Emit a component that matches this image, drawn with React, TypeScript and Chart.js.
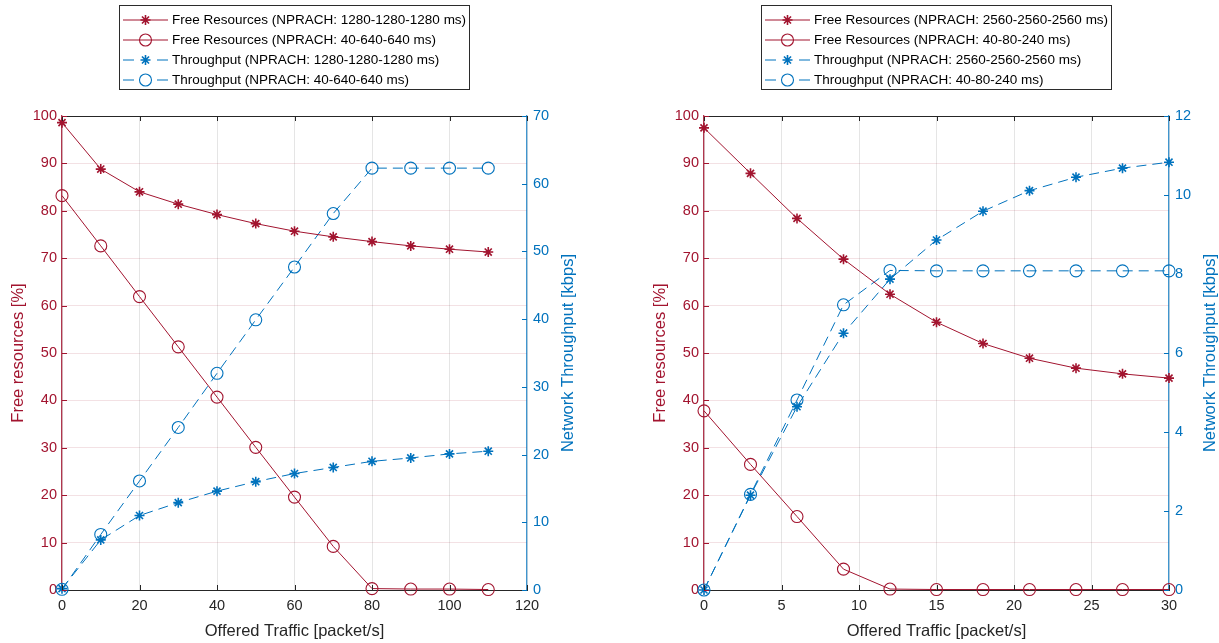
import React, { useEffect, useRef } from 'react';
import { Chart, registerables } from 'chart.js';

Chart.register(...registerables);

const RED = '#A2142F';
const BLUE = '#0072BD';
const DARK = '#262626';
const FONT = "'Liberation Sans', Arial, Helvetica, sans-serif";

// ---- Left panel data ----
const trafficLeft = [0, 10, 20, 30, 40, 50, 60, 70, 80, 90, 100, 110];
const freeRes1280 = [98.6, 88.8, 84.0, 81.4, 79.2, 77.3, 75.7, 74.5, 73.5, 72.6, 71.9, 71.3];
const freeRes40_640 = [83.2, 72.6, 61.9, 51.3, 40.7, 30.1, 19.6, 9.2, 0.3, 0.2, 0.2, 0.1];
const thr1280 = [0.2, 7.4, 11.0, 12.9, 14.6, 16.0, 17.2, 18.1, 19.0, 19.5, 20.1, 20.5];
const thr40_640 = [0.1, 8.2, 16.1, 24.0, 32.0, 39.9, 47.7, 55.6, 62.3, 62.3, 62.3, 62.3];
const labelsLeft = [
  'Free Resources (NPRACH: 1280-1280-1280 ms)',
  'Free Resources (NPRACH: 40-640-640 ms)',
  'Throughput (NPRACH: 1280-1280-1280 ms)',
  'Throughput (NPRACH: 40-640-640 ms)',
];

// ---- Right panel data ----
const trafficRight = [0, 3, 6, 9, 12, 15, 18, 21, 24, 27, 30];
const freeRes2560 = [97.5, 87.9, 78.4, 69.8, 62.4, 56.5, 52.0, 48.9, 46.8, 45.6, 44.7];
const freeRes40_80 = [37.8, 26.5, 15.5, 4.4, 0.2, 0.1, 0.1, 0.1, 0.1, 0.1, 0.1];
const thr2560 = [0.0, 2.4, 4.64, 6.5, 7.87, 8.86, 9.59, 10.11, 10.45, 10.68, 10.83];
const thr40_80 = [0.0, 2.42, 4.81, 7.22, 8.09, 8.08, 8.08, 8.08, 8.08, 8.08, 8.08];
const labelsRight = [
  'Free Resources (NPRACH: 2560-2560-2560 ms)',
  'Free Resources (NPRACH: 40-80-240 ms)',
  'Throughput (NPRACH: 2560-2560-2560 ms)',
  'Throughput (NPRACH: 40-80-240 ms)',
];

const xTitle = 'Offered Traffic [packet/s]';
const yLeftTitle = 'Free resources [%]';
const yRightTitle = 'Network Throughput [kbps]';

function mk(label: string, xs: number[], ys: number[], axis: string, color: string, style: string, dashed: boolean) {
  const star = style === 'star';
  return {
    label,
    data: xs.map((x, i) => ({ x, y: ys[i] })),
    yAxisID: axis,
    borderColor: color,
    backgroundColor: color,
    borderWidth: 1,
    borderDash: dashed ? [10, 6] : [],
    pointStyle: style,
    pointRadius: star ? 5 : 6,
    pointBorderWidth: star ? 1.6 : 1.1,
    pointBackgroundColor: star ? color : 'rgba(0,0,0,0)',
    pointBorderColor: color,
    pointHoverRadius: star ? 5 : 6,
    tension: 0,
    clip: false as any,
    fill: false,
  };
}

function drawMarker(ctx: CanvasRenderingContext2D, style: string, x: number, y: number, color: string) {
  ctx.save();
  ctx.strokeStyle = color;
  ctx.setLineDash([]);
  if (style === 'star') {
    const r = 5;
    const d = r * Math.SQRT1_2;
    ctx.lineWidth = 1.6;
    ctx.beginPath();
    ctx.moveTo(x - r, y); ctx.lineTo(x + r, y);
    ctx.moveTo(x, y - r); ctx.lineTo(x, y + r);
    ctx.moveTo(x - d, y - d); ctx.lineTo(x + d, y + d);
    ctx.moveTo(x - d, y + d); ctx.lineTo(x + d, y - d);
    ctx.stroke();
  } else {
    ctx.lineWidth = 1.1;
    ctx.beginPath();
    ctx.arc(x, y, 6, 0, Math.PI * 2);
    ctx.stroke();
  }
  ctx.restore();
}

const decorPlugin = {
  id: 'decor',
  afterDraw(chart: any, _args: any, opts: any) {
    const ctx: CanvasRenderingContext2D = chart.ctx;
    const { left, right, top, bottom } = chart.chartArea;
    const sx = chart.scales.x, sy = chart.scales.y, sy1 = chart.scales.y1;
    ctx.save();
    // top border
    ctx.strokeStyle = DARK;
    ctx.lineWidth = 1;
    ctx.beginPath();
    ctx.moveTo(left, top + 0.5);
    ctx.lineTo(right, top + 0.5);
    ctx.stroke();
    // inward ticks
    const TL = 5;
    ctx.strokeStyle = DARK;
    ctx.beginPath();
    sx.ticks.forEach((t: any) => {
      const px = Math.round(sx.getPixelForValue(t.value)) + 0.5;
      ctx.moveTo(px, bottom); ctx.lineTo(px, bottom - TL);
      ctx.moveTo(px, top); ctx.lineTo(px, top + TL);
    });
    ctx.stroke();
    ctx.strokeStyle = RED;
    ctx.beginPath();
    sy.ticks.forEach((t: any) => {
      const py = Math.round(sy.getPixelForValue(t.value)) + 0.5;
      ctx.moveTo(left, py); ctx.lineTo(left + TL, py);
    });
    ctx.stroke();
    ctx.strokeStyle = BLUE;
    ctx.beginPath();
    sy1.ticks.forEach((t: any) => {
      const py = Math.round(sy1.getPixelForValue(t.value)) + 0.5;
      ctx.moveTo(right, py); ctx.lineTo(right - TL, py);
    });
    ctx.stroke();

    // axis titles
    const midY = (top + bottom) / 2;
    ctx.font = `16.5px ${FONT}`;
    ctx.textAlign = 'center';
    ctx.textBaseline = 'middle';
    ctx.fillStyle = RED;
    ctx.save();
    ctx.translate(opts.yLeftTitleX, midY);
    ctx.rotate(-Math.PI / 2);
    ctx.fillText(yLeftTitle, 0, 0);
    ctx.restore();
    ctx.fillStyle = BLUE;
    ctx.save();
    ctx.translate(opts.yRightTitleX, midY);
    ctx.rotate(-Math.PI / 2);
    ctx.fillText(yRightTitle, 0, 0);
    ctx.restore();
    ctx.fillStyle = DARK;
    ctx.fillText(xTitle, (left + right) / 2, opts.xTitleY);

    // legend
    const lb = opts.legend;
    ctx.fillStyle = '#ffffff';
    ctx.fillRect(lb.x, lb.y, lb.w, lb.h);
    ctx.strokeStyle = '#2b2b2b';
    ctx.lineWidth = 1;
    ctx.strokeRect(lb.x + 0.5, lb.y + 0.5, lb.w - 1, lb.h - 1);
    ctx.font = `13.5px ${FONT}`;
    ctx.textAlign = 'left';
    ctx.textBaseline = 'middle';
    chart.data.datasets.forEach((ds: any, i: number) => {
      const yy = lb.y + lb.rowStart + i * lb.rowGap;
      const x0 = lb.x + 4;
      const x1 = x0 + 45;
      const color = ds.borderColor;
      ctx.strokeStyle = color;
      ctx.lineWidth = 1;
      ctx.beginPath();
      if (ds.borderDash && ds.borderDash.length) {
        ctx.moveTo(x0, yy); ctx.lineTo(x0 + 11, yy);
        ctx.moveTo(x1 - 11, yy); ctx.lineTo(x1, yy);
      } else {
        ctx.moveTo(x0, yy); ctx.lineTo(x1, yy);
      }
      ctx.stroke();
      drawMarker(ctx, ds.pointStyle, (x0 + x1) / 2, yy, color);
      ctx.fillStyle = '#000000';
      ctx.fillText(ds.label, lb.x + 53, yy + 0.5);
    });
    ctx.restore();
  },
};

type PanelCfg = {
  left: number;
  width: number;
  leftW: number;
  rightW: number;
  xs: number[];
  free1: number[];
  free2: number[];
  thr1: number[];
  thr2: number[];
  labels: string[];
  xMax: number;
  xStep: number;
  yRMax: number;
  yRStep: number;
  yLeftTitleX: number;
  yRightTitleX: number;
  legendX: number;
};

function Panel({ cfg }: { cfg: PanelCfg }) {
  const ref = useRef<HTMLCanvasElement>(null);
  useEffect(() => {
    const tickFont = { family: FONT, size: 14.5 };
    const chart = new Chart(ref.current as HTMLCanvasElement, {
      type: 'line',
      data: {
        datasets: [
          mk(cfg.labels[0], cfg.xs, cfg.free1, 'y', RED, 'star', false),
          mk(cfg.labels[1], cfg.xs, cfg.free2, 'y', RED, 'circle', false),
          mk(cfg.labels[2], cfg.xs, cfg.thr1, 'y1', BLUE, 'star', true),
          mk(cfg.labels[3], cfg.xs, cfg.thr2, 'y1', BLUE, 'circle', true),
        ] as any,
      },
      options: {
        animation: false,
        responsive: false,
        devicePixelRatio: 1,
        layout: { padding: { top: 116, left: 0, right: 0, bottom: 0 } },
        plugins: {
          legend: { display: false },
          tooltip: { enabled: false },
          decor: {
            yLeftTitleX: cfg.yLeftTitleX,
            yRightTitleX: cfg.yRightTitleX,
            xTitleY: 631,
            legend: { x: cfg.legendX, y: 5, w: 351, h: 85, rowStart: 15, rowGap: 20 },
          },
        } as any,
        scales: {
          x: {
            type: 'linear',
            min: 0,
            max: cfg.xMax,
            ticks: { stepSize: cfg.xStep, color: DARK, font: tickFont, padding: 7, maxRotation: 0 },
            grid: { color: 'rgba(38,38,38,0.12)', drawTicks: false },
            border: { display: true, color: DARK, width: 1 },
            afterFit: (s: any) => { s.height = 53; },
          },
          y: {
            type: 'linear',
            position: 'left',
            min: 0,
            max: 100,
            ticks: { stepSize: 10, color: RED, font: tickFont, padding: 5 },
            grid: { color: 'rgba(162,20,47,0.13)', drawTicks: false },
            border: { display: true, color: 'rgba(162,20,47,0.85)', width: 1.3 },
            afterFit: (s: any) => { s.width = cfg.leftW; },
          },
          y1: {
            type: 'linear',
            position: 'right',
            min: 0,
            max: cfg.yRMax,
            ticks: { stepSize: cfg.yRStep, color: BLUE, font: tickFont, padding: 6 },
            grid: { drawOnChartArea: false, drawTicks: false },
            border: { display: true, color: 'rgba(0,114,189,0.75)', width: 1.3 },
            afterFit: (s: any) => { s.width = cfg.rightW; },
          },
        },
      } as any,
      plugins: [decorPlugin as any],
    });
    return () => chart.destroy();
  }, [cfg]);
  return (
    <div style={{ position: 'absolute', left: cfg.left, top: 0, width: cfg.width, height: 643 }}>
      <canvas ref={ref} width={cfg.width} height={643} style={{ display: 'block' }} />
    </div>
  );
}

const leftCfg: PanelCfg = {
  left: 0, width: 610, leftW: 62, rightW: 83,
  xs: trafficLeft, free1: freeRes1280, free2: freeRes40_640, thr1: thr1280, thr2: thr40_640,
  labels: labelsLeft, xMax: 120, xStep: 20, yRMax: 70, yRStep: 10,
  yLeftTitleX: 18, yRightTitleX: 568, legendX: 119,
};

const rightCfg: PanelCfg = {
  left: 610, width: 609, leftW: 94, rightW: 50,
  xs: trafficRight, free1: freeRes2560, free2: freeRes40_80, thr1: thr2560, thr2: thr40_80,
  labels: labelsRight, xMax: 30, xStep: 5, yRMax: 12, yRStep: 2,
  yLeftTitleX: 50, yRightTitleX: 600, legendX: 151,
};

export default function App() {
  return (
    <div style={{ position: 'fixed', left: 0, top: 0, width: 1219, height: 643, background: '#ffffff', overflow: 'hidden' }}>
      <Panel cfg={leftCfg} />
      <Panel cfg={rightCfg} />
    </div>
  );
}
